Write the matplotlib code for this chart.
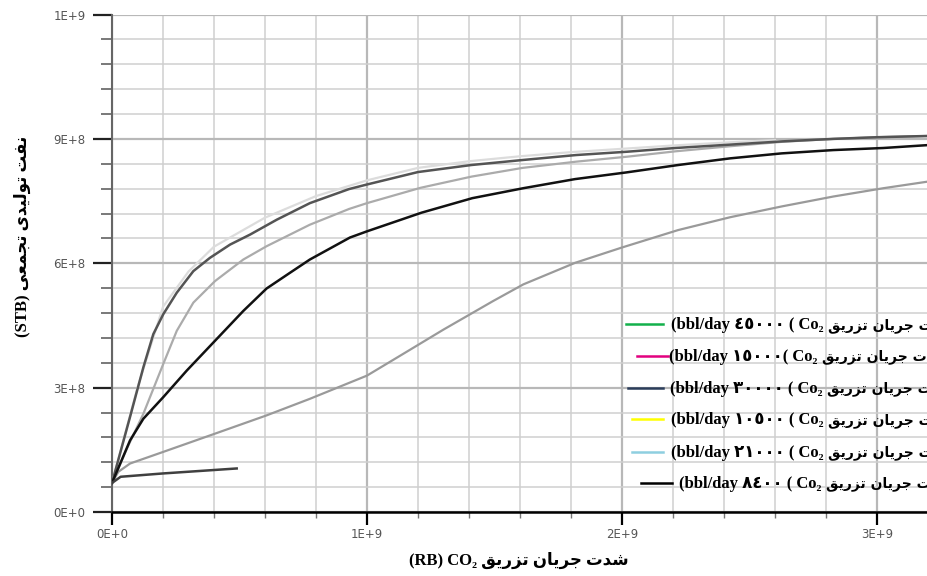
import numpy as np
import matplotlib
matplotlib.use('Agg')
import matplotlib.pyplot as plt
from matplotlib.lines import Line2D

# Arabic words written as presentation forms in visual (left to right) order,
# since matplotlib does no RTL shaping
shedat = "\uFE95\uFEAA\uFEB7"            # شدت
jaryan = "\uFEE5\uFE8E\uFEF3\uFEAE\uFE9F"  # جریان
tazrigh = "\uFED6\uFEF3\uFEAD\uFEB0\uFE97"  # تزریق
naft = "\uFE96\uFED4\uFEE7"               # نفت
towlidi = "\uFEEF\uFEAA\uFEF4\uFEDF\uFEEE\uFE97"  # تولیدی
tajamoi = "\uFEF0\uFECC\uFEE4\uFEA0\uFE97"  # تجمعی
phrase = tazrigh + " " + jaryan + " " + shedat

xlabel = "(RB) CO\u2082 " + phrase
ylabel = "(STB) " + tajamoi + " " + towlidi + " " + naft

# curves (x in 1E+9 RB, y in 1E+8 STB)
xA = [0, 0.0706, 0.123, 0.162, 0.201, 0.254, 0.319, 0.384, 0.463, 0.541, 0.646, 0.776, 0.93, 1.0, 1.2,
      1.41, 1.61, 1.82, 2.02, 2.21, 2.42, 2.63, 2.83, 3.0, 3.2]
yA = [0.70, 2.29, 3.49, 4.29, 4.77, 5.29, 5.81, 6.13, 6.45, 6.69, 7.05, 7.45, 7.79, 7.90, 8.20,
      8.37, 8.49, 8.61, 8.69, 8.78, 8.86, 8.94, 9.00, 9.04, 9.07]

xB = [0, 0.06, 0.123, 0.201, 0.254, 0.319, 0.404, 0.515, 0.606, 0.776, 0.93, 1.0, 1.21, 1.41, 1.61,
      1.82, 2.02, 2.21, 2.42, 2.63, 2.83, 3.0, 3.2]
yB = [0.70, 1.55, 2.37, 3.57, 4.37, 5.05, 5.57, 6.09, 6.41, 6.93, 7.31, 7.45, 7.82, 8.09, 8.30,
      8.45, 8.57, 8.70, 8.82, 8.93, 9.00, 9.04, 9.07]

xC = [0, 0.071, 0.123, 0.201, 0.293, 0.404, 0.515, 0.606, 0.698, 0.776, 0.933, 1.0, 1.214, 1.413,
      1.613, 1.816, 2.016, 2.221, 2.424, 2.626, 2.829, 3.025, 3.2]
yC = [0.70, 1.73, 2.25, 2.77, 3.41, 4.13, 4.85, 5.39, 5.77, 6.09, 6.62, 6.77, 7.22, 7.57,
      7.81, 8.03, 8.19, 8.37, 8.53, 8.65, 8.73, 8.78, 8.85]

xD = [0, 0.025, 0.071, 0.201, 0.404, 0.606, 0.776, 1.0, 1.13, 1.3, 1.495, 1.613, 1.816, 2.0, 2.22,
      2.424, 2.626, 2.829, 3.025, 3.2]
yD = [0.70, 0.97, 1.17, 1.45, 1.89, 2.33, 2.73, 3.29, 3.77, 4.40, 5.09, 5.49, 6.01, 6.38, 6.80,
      7.11, 7.37, 7.61, 7.81, 7.97]

xE = [0, 0.034, 0.2, 0.345, 0.489]
yE = [0.70, 0.85, 0.93, 0.99, 1.05]

xF = [0, 0.1, 0.2, 0.3, 0.4, 0.6, 0.8, 1.0, 1.2, 1.4, 1.6, 1.8, 2.0, 2.2, 2.4, 2.6]
yF = [0.70, 3.00, 4.95, 5.80, 6.40, 7.10, 7.62, 8.00, 8.30, 8.46, 8.58, 8.68, 8.76, 8.84, 8.91, 8.97]

legend_rates = ["\u0664\u0665\u0660\u0660\u0660 (", "\u0661\u0665\u0660\u0660\u0660(", "\u0663\u0660\u0660\u0660\u0660 (",
                "\u0661\u0660\u0665\u0660\u0660 (", "\u0662\u0661\u0660\u0660\u0660 (", "\u0668\u0664\u0660\u0660 ("]
legend_colors = ["#13b04b", "#e2007f", "#2b3d5a", "#ffff00", "#8ecfe0", "#000000"]

xticks = [0, 1e9, 2e9, 3e9]
xtick_labels = ["0E+0", "1E+9", "2E+9", "3E+9"]
yticks = [0, 3e8, 6e8, 9e8, 1.2e9]
ytick_labels = ["0E+0", "3E+8", "6E+8", "9E+8", "1E+9"]

W, H = 928, 576
fig = plt.figure(figsize=(W / 100, H / 100), dpi=100)
ax = fig.add_axes([112 / W, (H - 512) / H, 816 / W, (512 - 14.5) / H])

def px(v):
    return np.array(v) * 1e9

def py(v):
    return np.array(v) * 1e8

ax.plot(px(xF), py(yF), color="#dcdcdc", lw=1.6, zorder=3)
ax.plot(px(xB), py(yB), color="#ababab", lw=1.6, zorder=4)
ax.plot(px(xD), py(yD), color="#9a9a9a", lw=1.6, zorder=4)
ax.plot(px(xA), py(yA), color="#545454", lw=1.8, zorder=5)
ax.plot(px(xC), py(yC), color="#111111", lw=1.8, zorder=6)
ax.plot(px(xE), py(yE), color="#404040", lw=1.8, zorder=6)

ax.set_xlim(0, 3.2e9)
ax.set_ylim(0, 1.2e9)
ax.set_xticks(xticks)
ax.set_xticklabels(xtick_labels)
ax.set_xticks(np.arange(0, 3.2e9 + 1, 2e8), minor=True)
ax.set_yticks(yticks)
ax.set_yticklabels(ytick_labels)
ax.set_yticks(np.arange(0, 1.2e9 + 1, 6e7), minor=True)

ax.grid(which="minor", color="#cfcfcf", lw=1.1, zorder=0)
ax.grid(which="major", color="#b8b8b8", lw=1.6, zorder=0)
ax.set_axisbelow(True)

for s in ["top", "right"]:
    ax.spines[s].set_visible(False)
ax.spines["left"].set_color("#666666")
ax.spines["left"].set_linewidth(1.5)
ax.spines["bottom"].set_color("#000000")
ax.spines["bottom"].set_linewidth(1.8)

ax.tick_params(axis="y", which="major", direction="out", length=13.5, width=1.6, color="#222222",
               pad=5.5, labelsize=8.5, labelcolor="#555555")
ax.tick_params(axis="y", which="minor", direction="out", length=8, width=1.1, color="#555555")
ax.tick_params(axis="x", which="major", direction="out", length=9, width=1.6, color="#000000",
               pad=2.5, labelsize=8.5, labelcolor="#555555")
ax.tick_params(axis="x", which="minor", direction="out", length=4, width=1.0, color="#777777")

fam = ["Liberation Serif", "DejaVu Sans"]
fig.text(519 / W, 1 - 560 / H, xlabel, family=fam, weight="bold", fontsize=12,
         ha="center", va="center")
fig.text(22 / W, 1 - 236 / H, ylabel, family=fam, weight="bold", fontsize=12,
         ha="center", va="center", rotation=90)

# legend rows: latin part, then the persian words (narrower) right after it
rows_y = [324, 355.7, 387.7, 419, 451.7, 482.7]
line_x = [(626, 663), (637, 668), (628, 663), (632, 663), (632, 663), (641, 672)]
text_x = [671, 669, 670, 671, 671, 679]
renderer = fig.canvas.get_renderer()
for i in range(6):
    yf = 1 - rows_y[i] / H
    fig.add_artist(Line2D([line_x[i][0] / W, line_x[i][1] / W], [yf, yf],
                          color=legend_colors[i], lw=1.8, transform=fig.transFigure))
    yb = 1 - (rows_y[i] + 5) / H
    t = fig.text(text_x[i] / W, yb, "(bbl/day " + legend_rates[i] + " Co\u2082",
                 family=fam, weight="bold", fontsize=12, ha="left", va="baseline")
    x_end = t.get_window_extent(renderer=renderer).x1
    fig.text((x_end + 5) / W, yb, phrase, family="DejaVu Sans", weight="bold", fontsize=10,
             ha="left", va="baseline")

fig.savefig("out.png", dpi=100)
